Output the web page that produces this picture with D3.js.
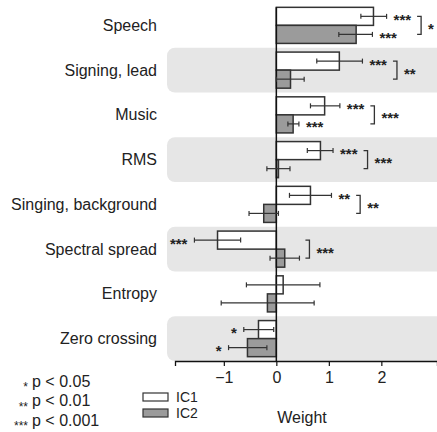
<!DOCTYPE html>
<html>
<head>
<meta charset="utf-8">
<script src="https://cdn.jsdelivr.net/npm/d3@7"></script>
<style>
  body { margin: 0; background: #fff; }
  svg { font-family: "Liberation Sans", Arial, sans-serif; }
</style>
</head>
<body>
<svg id="chart" width="437" height="432"></svg>
<script>
var categories = ["Speech", "Signing, lead", "Music", "RMS", "Singing, background", "Spectral spread", "Entropy", "Zero crossing"];
var ic1 = [1.85, 1.20, 0.92, 0.84, 0.65, -1.12, 0.13, -0.34];
var ic1Lo = [1.61, 0.77, 0.65, 0.59, 0.25, -1.56, -0.57, -0.62];
var ic1Hi = [2.10, 1.64, 1.21, 1.08, 1.05, -0.68, 0.83, -0.05];
var ic1Sig = ["***", "***", "***", "***", "**", "***", "", "*"];
var ic2 = [1.52, 0.27, 0.32, 0.04, -0.24, 0.16, -0.17, -0.55];
var ic2Lo = [1.19, 0.0, 0.22, -0.18, -0.52, -0.12, -1.05, -0.91];
var ic2Hi = [1.83, 0.53, 0.43, 0.26, 0.04, 0.44, 0.72, -0.18];
var ic2Sig = ["***", "", "***", "", "", "", "", "*"];
var diffSig = ["*", "**", "***", "***", "**", "***", "", ""];
var series = ["IC1", "IC2"];
var ticks = [-1, 0, 1, 2];
var pLegend = [["*", "p < 0.05"], ["**", "p < 0.01"], ["***", "p < 0.001"]];

var svg = d3.select("#chart");
var x = d3.scaleLinear().domain([-1.93, 3.06]).range([175, 437]);
var y = d3.scaleBand().domain(categories).range([3, 361]);
var y1 = d3.scaleBand().domain(series).range([0, y.bandwidth()]).paddingOuter(0.24);
var fills = {IC1: "#ffffff", IC2: "#9b9b9b"};
var ink = "#333";

// rows as objects
var rows = categories.map(function(c, i) {
    return {cat: c, i: i, diff: diffSig[i], bars: [
        {s: "IC1", cat: c, v: ic1[i], lo: ic1Lo[i], hi: ic1Hi[i], sig: ic1Sig[i]},
        {s: "IC2", cat: c, v: ic2[i], lo: ic2Lo[i], hi: ic2Hi[i], sig: ic2Sig[i]}
    ]};
});

// background bands on alternating rows
svg.append("g").selectAll("rect")
    .data(rows.filter(d => d.i % 2 == 1))
    .enter().append("rect")
    .attr("x", 167).attr("y", d => y(d.cat))
    .attr("width", 290).attr("height", y.bandwidth())
    .attr("rx", 8).attr("fill", "#e6e6e6");

// category labels
svg.append("g").selectAll("text")
    .data(categories).enter().append("text")
    .attr("x", 157).attr("y", d => y(d) + y.bandwidth() / 2)
    .attr("dy", "0.35em").attr("text-anchor", "end")
    .attr("font-size", 16).attr("fill", "#222")
    .text(d => d);

var allBars = [];
rows.forEach(r => r.bars.forEach(b => allBars.push(b)));
var yc = b => y(b.cat) + y1(b.s) + y1.bandwidth() / 2;

// bars
svg.append("g").selectAll("rect")
    .data(allBars).enter().append("rect")
    .attr("x", d => x(Math.min(0, d.v)))
    .attr("y", d => y(d.cat) + y1(d.s))
    .attr("width", d => Math.abs(x(d.v) - x(0)))
    .attr("height", y1.bandwidth())
    .attr("fill", d => fills[d.s])
    .attr("stroke", ink).attr("stroke-width", 1.5);

// zero line
svg.append("line")
    .attr("x1", x(0)).attr("x2", x(0))
    .attr("y1", y(categories[0]) + y1("IC1")).attr("y2", 361)
    .attr("stroke", "#111").attr("stroke-width", 1.5);

// error bars
var eb = svg.append("g").attr("stroke", ink).attr("stroke-width", 1.2);
allBars.forEach(function(d) {
    var c = yc(d);
    eb.append("line").attr("x1", x(d.lo)).attr("x2", x(d.hi)).attr("y1", c).attr("y2", c);
    eb.append("line").attr("x1", x(d.lo)).attr("x2", x(d.lo)).attr("y1", c - 2.5).attr("y2", c + 2.5);
    eb.append("line").attr("x1", x(d.hi)).attr("x2", x(d.hi)).attr("y1", c - 2.5).attr("y2", c + 2.5);
});

// significance stars next to each bar
var starG = svg.append("g").attr("font-size", 15).attr("font-weight", "bold").attr("fill", "#222");
rows.forEach(function(r) {
    var right = 0;
    r.bars.forEach(function(d) {
        right = Math.max(right, x(d.hi));
        if (!d.sig) return;
        var t = starG.append("text")
            .attr("y", yc(d) + 8.5)
            .text(d.sig);
        if (d.v >= 0) {
            t.attr("x", x(d.hi) + 7);
            right = Math.max(right, x(d.hi) + 7 + t.node().getComputedTextLength());
        } else {
            t.attr("x", x(d.lo) - 7).attr("text-anchor", "end");
        }
    });
    if (!r.diff) return;
    var bx = right + 6;
    var c1 = yc(r.bars[0]), c2 = yc(r.bars[1]);
    svg.append("path")
        .attr("d", "M" + bx + "," + c1 + "H" + (bx + 4) + "V" + c2 + "H" + bx)
        .attr("fill", "none").attr("stroke", ink).attr("stroke-width", 1.3);
    starG.append("text")
        .attr("x", bx + 11).attr("y", (c1 + c2) / 2 + 8.5)
        .text(r.diff);
});

// x axis
var axis = svg.append("g").attr("transform", "translate(0,361)")
    .call(d3.axisBottom(x).tickValues(ticks).tickSize(5).tickPadding(6).tickFormat(d3.format("d")));
axis.select(".domain").attr("stroke", "#111").attr("stroke-width", 1.3);
axis.selectAll(".tick line").attr("stroke", "#111").attr("stroke-width", 1.2);
axis.selectAll(".tick text").attr("font-size", 16).attr("fill", "#222")
    .attr("font-family", "Liberation Sans, Arial, sans-serif");

svg.append("text").attr("x", 302).attr("y", 423)
    .attr("text-anchor", "middle").attr("font-size", 16).attr("fill", "#222")
    .text("Weight");

// series legend
var lg = svg.append("g").selectAll("g").data(series).enter().append("g")
    .attr("transform", (d, i) => "translate(143," + (393 + i * 16) + ")");
lg.append("rect").attr("width", 25).attr("height", 8)
    .attr("fill", d => fills[d]).attr("stroke", ink).attr("stroke-width", 1.2);
lg.append("text").attr("x", 33).attr("y", 4).attr("dy", "0.35em")
    .attr("font-size", 14).attr("fill", "#222").text(d => d);

// p-value legend
var pg = svg.append("g").selectAll("g").data(pLegend).enter().append("g")
    .attr("transform", (d, i) => "translate(0," + (381 + i * 19.5) + ")");
pg.append("text").attr("x", 28).attr("y", 10).attr("text-anchor", "end")
    .attr("font-size", 12).attr("fill", "#222").text(d => d[0]);
pg.append("text").attr("x", 32).attr("dy", "0.35em")
    .attr("font-size", 16).attr("fill", "#222").text(d => d[1]);
</script>
</body>
</html>
